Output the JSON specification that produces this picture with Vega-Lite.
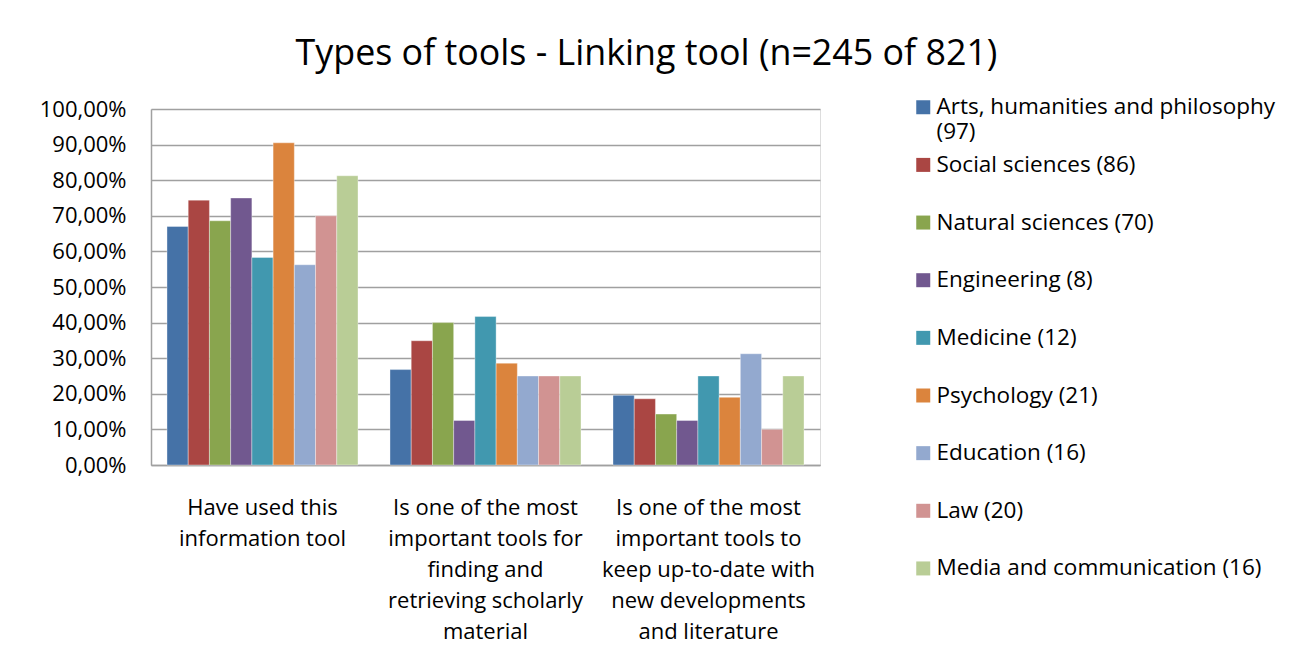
{
  "$schema": "https://vega.github.io/schema/vega-lite/v6.json",
  "autosize": "none",
  "width": 669,
  "height": 356,
  "padding": {"left": 151, "top": 109, "right": 471, "bottom": 205},
  "background": "white",
  "title": {
    "text": "Types of tools - Linking tool (n=245 of 821)",
    "anchor": "middle",
    "frame": "group",
    "dx": 161,
    "dy": 49,
    "offset": 44,
    "baseline": "alphabetic",
    "font": "Open Sans",
    "fontSize": 35.8,
    "fontWeight": "normal",
    "color": "#000000"
  },
  "data": {
    "values": [
      {"question": "Have used this information tool", "field": "Arts, humanities and philosophy (97)", "share": 0.670},
      {"question": "Have used this information tool", "field": "Social sciences (86)", "share": 0.744},
      {"question": "Have used this information tool", "field": "Natural sciences (70)", "share": 0.686},
      {"question": "Have used this information tool", "field": "Engineering (8)", "share": 0.750},
      {"question": "Have used this information tool", "field": "Medicine (12)", "share": 0.583},
      {"question": "Have used this information tool", "field": "Psychology (21)", "share": 0.905},
      {"question": "Have used this information tool", "field": "Education (16)", "share": 0.5625},
      {"question": "Have used this information tool", "field": "Law (20)", "share": 0.700},
      {"question": "Have used this information tool", "field": "Media and communication (16)", "share": 0.8125},
      {"question": "Is one of the most important tools for finding and retrieving scholarly material", "field": "Arts, humanities and philosophy (97)", "share": 0.268},
      {"question": "Is one of the most important tools for finding and retrieving scholarly material", "field": "Social sciences (86)", "share": 0.349},
      {"question": "Is one of the most important tools for finding and retrieving scholarly material", "field": "Natural sciences (70)", "share": 0.400},
      {"question": "Is one of the most important tools for finding and retrieving scholarly material", "field": "Engineering (8)", "share": 0.125},
      {"question": "Is one of the most important tools for finding and retrieving scholarly material", "field": "Medicine (12)", "share": 0.417},
      {"question": "Is one of the most important tools for finding and retrieving scholarly material", "field": "Psychology (21)", "share": 0.286},
      {"question": "Is one of the most important tools for finding and retrieving scholarly material", "field": "Education (16)", "share": 0.250},
      {"question": "Is one of the most important tools for finding and retrieving scholarly material", "field": "Law (20)", "share": 0.250},
      {"question": "Is one of the most important tools for finding and retrieving scholarly material", "field": "Media and communication (16)", "share": 0.250},
      {"question": "Is one of the most important tools to keep up-to-date with new developments and literature", "field": "Arts, humanities and philosophy (97)", "share": 0.196},
      {"question": "Is one of the most important tools to keep up-to-date with new developments and literature", "field": "Social sciences (86)", "share": 0.186},
      {"question": "Is one of the most important tools to keep up-to-date with new developments and literature", "field": "Natural sciences (70)", "share": 0.143},
      {"question": "Is one of the most important tools to keep up-to-date with new developments and literature", "field": "Engineering (8)", "share": 0.125},
      {"question": "Is one of the most important tools to keep up-to-date with new developments and literature", "field": "Medicine (12)", "share": 0.250},
      {"question": "Is one of the most important tools to keep up-to-date with new developments and literature", "field": "Psychology (21)", "share": 0.190},
      {"question": "Is one of the most important tools to keep up-to-date with new developments and literature", "field": "Education (16)", "share": 0.3125},
      {"question": "Is one of the most important tools to keep up-to-date with new developments and literature", "field": "Law (20)", "share": 0.100},
      {"question": "Is one of the most important tools to keep up-to-date with new developments and literature", "field": "Media and communication (16)", "share": 0.250}
    ]
  },
  "mark": {"type": "bar", "stroke": "white", "strokeWidth": 0.6, "strokeOpacity": 0.6},
  "encoding": {
    "x": {
      "field": "question",
      "type": "nominal",
      "sort": null,
      "scale": {"paddingInner": 0.1435, "paddingOuter": 0.0717},
      "axis": {
        "title": null,
        "labelAngle": 0,
        "ticks": false,
        "domainColor": "#a0a0a0",
        "domainWidth": 1.5,
        "labelFont": "Open Sans",
        "labelFontSize": 22,
        "labelColor": "#000000",
        "labelPadding": 32,
        "labelBaseline": "top",
        "labelLineHeight": 31,
        "labelLimit": 400,
        "labelExpr": "datum.label == 'Have used this information tool' ? ['Have used this', 'information tool'] : datum.label == 'Is one of the most important tools for finding and retrieving scholarly material' ? ['Is one of the most', 'important tools for', 'finding and', 'retrieving scholarly', 'material'] : ['Is one of the most', 'important tools to', 'keep up-to-date with', 'new developments', 'and literature']"
      }
    },
    "xOffset": {
      "field": "field",
      "type": "nominal",
      "sort": null,
      "scale": {"paddingInner": 0, "paddingOuter": 0}
    },
    "y": {
      "field": "share",
      "type": "quantitative",
      "scale": {"domain": [0, 1], "nice": false},
      "axis": {
        "title": null,
        "values": [0, 0.1, 0.2, 0.3, 0.4, 0.5, 0.6, 0.7, 0.8, 0.9, 1],
        "labelExpr": "replace(format(datum.value, '.2%'), '.', ',')",
        "ticks": false,
        "grid": true,
        "gridColor": "#a0a0a0",
        "gridWidth": 1.5,
        "domainColor": "#a0a0a0",
        "domainWidth": 1.5,
        "labelFont": "Open Sans",
        "labelFontSize": 22,
        "labelColor": "#000000",
        "labelPadding": 25
      }
    },
    "color": {
      "field": "field",
      "type": "nominal",
      "sort": null,
      "scale": {
        "domain": ["Arts, humanities and philosophy (97)", "Social sciences (86)", "Natural sciences (70)", "Engineering (8)", "Medicine (12)", "Psychology (21)", "Education (16)", "Law (20)", "Media and communication (16)"],
        "range": ["#4572A7", "#AA4643", "#89A54E", "#71588F", "#4198AF", "#DB843D", "#93A9CF", "#D19392", "#B9CD96"]
      },
      "legend": {
        "title": null,
        "orient": "none",
        "legendX": 761,
        "legendY": -13,
        "padding": 0,
        "symbolType": "square",
        "symbolSize": 196,
        "symbolStrokeWidth": 0,
        "labelFont": "Open Sans",
        "labelFontSize": 22.5,
        "labelColor": "#000000",
        "labelLimit": 500,
        "labelOffset": 2,
        "labelBaseline": "middle",
        "rowPadding": 9.65,
        "labelExpr": "datum.label == 'Arts, humanities and philosophy (97)' ? ['Arts, humanities and philosophy', '(97)'] : [datum.label, '']"
      }
    }
  }
}
